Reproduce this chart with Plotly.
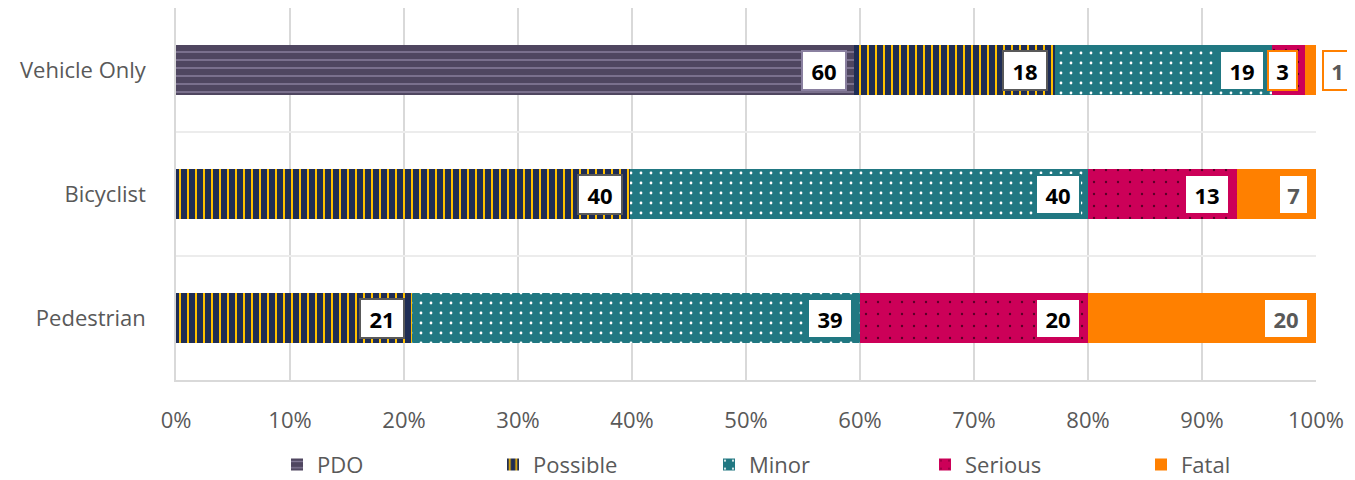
import numpy as np
import plotly.graph_objects as go

categories = ["Vehicle Only", "Bicyclist", "Pedestrian"]
severity = ["PDO", "Possible", "Minor", "Serious", "Fatal"]

# share of crashes (%) per crash type
pdo = [59.5, 0, 0]
possible = [17.6, 39.8, 20.7]
minor = [19.0, 40.2, 39.3]
serious = [2.9, 13.1, 20.0]
fatal = [1.0, 6.9, 20.0]

x_ticks = [0, 10, 20, 30, 40, 50, 60, 70, 80, 90, 100]
x_tick_labels = [f"{t}%" for t in x_ticks]

GRAY = "#595959"
GRID = "#d9d9d9"
FONT = "Open Sans, Noto Sans, sans-serif"

styles = {
    "PDO": dict(bg="#4f4660", fg="#857b98", shape="-", size=8, solidity=0.2,
                border="#8a80a0", text="black"),
    "Possible": dict(bg="#1f2d54", fg="#ffc000", shape="|", size=8, solidity=0.25,
                     border=GRAY, text="black"),
    "Minor": dict(bg="#217882", fg="#ffffff", shape=".", size=10, solidity=0.06,
                  border="#217882", text="black"),
    "Serious": dict(bg="#cc0058", fg="#5a0027", shape=".", size=12, solidity=0.03,
                    border="#cc0058", text="black"),
    "Fatal": dict(bg="#ff8000", fg="#ff8000", shape="", size=8, solidity=0.2,
                  border="#ff8000", text=GRAY),
}
# the narrow "3" label on Vehicle Only carries an orange frame
label_border_override = {("Serious", "Vehicle Only"): "#ff8000"}

series = dict(zip(severity, [pdo, possible, minor, serious, fatal]))

fig = go.Figure()
for name in severity:
    st = styles[name]
    fig.add_bar(
        y=categories, x=series[name], name=name, orientation="h",
        marker=dict(color=st["bg"], line=dict(width=0),
                    pattern=dict(shape=st["shape"], fgcolor=st["fg"], bgcolor=st["bg"],
                                 fgopacity=1, size=st["size"], solidity=st["solidity"],
                                 fillmode="overlay")),
        width=0.4, hoverinfo="skip",
    )

# data labels: white boxes at the inner end of each segment
cum = np.cumsum(np.array([series[s] for s in severity]), axis=0)
for i, name in enumerate(severity):
    st = styles[name]
    for j, cat in enumerate(categories):
        v = series[name][j]
        if v <= 0:
            continue
        txt = str(int(round(v)))
        outside = v < 2
        fig.add_annotation(
            x=cum[i, j], y=cat, xref="x", yref="y",
            text=f"<b>{txt}</b>", showarrow=False,
            xanchor="left" if outside else "right",
            xshift=6 if outside else -7,
            font=dict(family=FONT, size=22, color=st["text"]),
            bgcolor="white",
            bordercolor=label_border_override.get((name, cat), st["border"]),
            borderwidth=2, borderpad=5,
            width=2 + 15 * len(txt), height=27,
        )

# the page body adds an 8px margin, so the figure is sized to fit the window
fig.update_layout(
    barmode="stack",
    width=1347, height=472,
    margin=dict(l=168, r=39, t=0, b=100, autoexpand=False),
    plot_bgcolor="white", paper_bgcolor="white",
    font=dict(family=FONT, size=22, color=GRAY),
    legend=dict(orientation="h", x=0.0886, xanchor="left", y=-0.228, yanchor="middle",
                entrywidth=171, font=dict(size=22, color=GRAY), traceorder="normal"),
    xaxis=dict(range=[0, 100], tickvals=x_ticks, ticktext=x_tick_labels,
               showgrid=True, gridcolor=GRID, gridwidth=1.5, zeroline=False,
               showline=True, linecolor=GRID, linewidth=1.5, automargin=False,
               ticks="", ticklabelstandoff=20, tickfont=dict(size=22, color=GRAY)),
    yaxis=dict(categoryorder="array", categoryarray=categories, autorange="reversed",
               tickson="boundaries", showgrid=True, gridcolor="#ececec", gridwidth=1.5,
               showline=True, linecolor=GRID, linewidth=1.5, ticks="", automargin=False,
               ticklabelstandoff=24, tickfont=dict(size=22, color=GRAY)),
)

fig.write_html("out.html")
